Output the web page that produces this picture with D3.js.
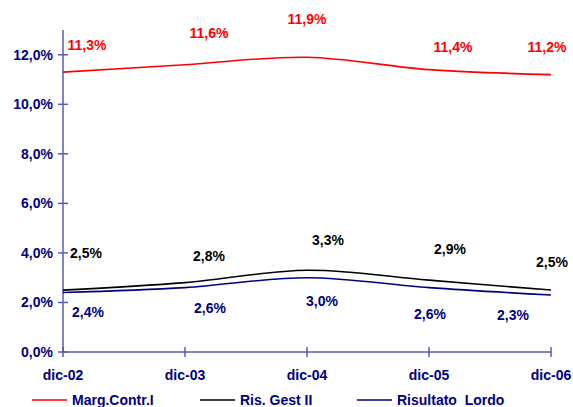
<!DOCTYPE html>
<html><head><meta charset="utf-8">
<script src="https://cdn.jsdelivr.net/npm/d3@7"></script>
<style>body{margin:0;background:#fff}svg{display:block}</style>
</head><body>
<svg id="c" width="573" height="407"></svg>
<script>
const categories = ["dic-02","dic-03","dic-04","dic-05","dic-06"];
const margContr = [11.3, 11.6, 11.9, 11.4, 11.2];
const risGest = [2.5, 2.8, 3.3, 2.9, 2.5];
const risLordo = [2.4, 2.6, 3.0, 2.6, 2.3];
const yTicks = [0, 2, 4, 6, 8, 10, 12];
const seriesNames = ["Marg.Contr.I", "Ris. Gest II", "Risultato  Lordo"];
const seriesColors = ["#ff0000", "#000000", "#000080"];

// label placement (layout only): dx, dy (label centre relative to point)
const labelOffsets = [
  [[24,-27],[24,-32],[0,-38],[24,-23],[-4,-28]],
  [[23,-37],[24,-27],[21,-30],[21,-31],[1,-28]],
  [[25,19],[25,20],[15,23],[1,26],[-38,20]]
];

const svg = d3.select("#c");
const x = d3.scalePoint().domain(categories).range([63, 551]);
const y = d3.scaleLinear().domain([0, 13]).range([352, 30]);
const navy = "#000080";
const axisCol = "#5a5ab4";
const font = "Liberation Sans, Arial, sans-serif";

svg.append("line").attr("x1",63).attr("x2",63).attr("y1",y(13)).attr("y2",y(0))
  .attr("stroke",axisCol).attr("stroke-width",1.5);
svg.append("line").attr("x1",63).attr("x2",551).attr("y1",y(0)).attr("y2",y(0))
  .attr("stroke",axisCol).attr("stroke-width",1.5);
svg.selectAll(".yt").data(yTicks).enter().append("line")
  .attr("x1",58).attr("x2",68).attr("y1",d=>y(d)).attr("y2",d=>y(d))
  .attr("stroke",axisCol).attr("stroke-width",1.5);
svg.selectAll(".yl").data(yTicks).enter().append("text")
  .attr("x",53).attr("y",d=>y(d)+5).attr("text-anchor","end")
  .attr("font-family",font).attr("font-weight","bold")
  .attr("font-size",14).attr("fill",navy)
  .text(d=>d.toFixed(1).replace(".",",")+"%");
svg.selectAll(".xt").data(categories).enter().append("line")
  .attr("x1",d=>x(d)).attr("x2",d=>x(d)).attr("y1",y(0)-5).attr("y2",y(0)+5)
  .attr("stroke",axisCol).attr("stroke-width",1.5);
svg.selectAll(".xl").data(categories).enter().append("text")
  .attr("x",d=>x(d)).attr("y",380).attr("text-anchor","middle")
  .attr("font-family",font).attr("font-weight","bold")
  .attr("font-size",14).attr("fill",navy).text(d=>d);

const allSeries = [margContr, risGest, risLordo];
const line = d3.line().x((d,i)=>x(categories[i])).y(d=>y(d)).curve(d3.curveCatmullRom.alpha(0.5));
allSeries.forEach((s,k)=>{
  svg.append("path").attr("d",line(s)).attr("fill","none")
    .attr("stroke",seriesColors[k]).attr("stroke-width",1.6);
});
allSeries.forEach((s,k)=>{
  svg.selectAll(".lab"+k).data(s).enter().append("text")
    .attr("x",(d,i)=>x(categories[i])+labelOffsets[k][i][0])
    .attr("y",(d,i)=>y(d)+labelOffsets[k][i][1]+5)
    .attr("text-anchor","middle")
    .attr("font-family",font).attr("font-weight","bold")
    .attr("font-size",14).attr("fill",seriesColors[k])
    .text(d=>d.toFixed(1).replace(".",",")+"%");
});

const legX = [32, 200, 357];
seriesNames.forEach((n,k)=>{
  svg.append("line").attr("x1",legX[k]).attr("x2",legX[k]+35).attr("y1",400).attr("y2",400)
    .attr("stroke",seriesColors[k]).attr("stroke-width",1.6);
  svg.append("text").attr("x",legX[k]+40).attr("y",405)
    .attr("font-family",font).attr("font-weight","bold")
    .attr("font-size",14).attr("fill",navy)
    .style("white-space","pre").text(n);
});
</script>
</body></html>
